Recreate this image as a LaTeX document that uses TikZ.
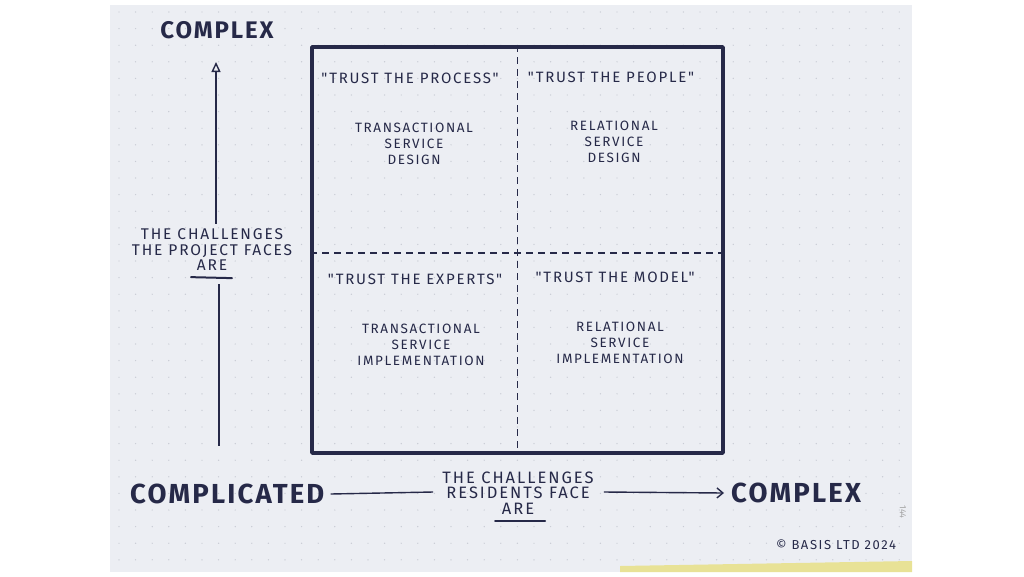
\documentclass[tikz,border=0pt]{standalone}
\usepackage{fontspec}
\setmainfont{Fira Sans}
\newfontfamily\handfont[LetterSpace=12]{Fira Sans}
\newfontfamily\markerfont[LetterSpace=8]{Fira Sans}
\usepackage{tikz}
\usetikzlibrary{arrows.meta,positioning,calc}
\definecolor{inkcol}{RGB}{38,41,72}
\definecolor{papercol}{RGB}{236,238,243}
\definecolor{dotcol}{RGB}{200,203,212}
\definecolor{tabcol}{RGB}{232,226,150}
\tikzset{
  frame/.style={draw=inkcol,line width=3.6pt,line join=round,inner sep=0pt},
  divider/.style={draw=inkcol,line width=1.3pt,dash pattern=on 7pt off 5pt},
  quote/.style={font=\handfont\fontsize{15}{17}\selectfont,text=inkcol,inner sep=0pt},
  body/.style={font=\handfont\fontsize{13.5}{16}\selectfont,text=inkcol,align=center,inner sep=0pt},
  sidelbl/.style={font=\handfont\fontsize{15.5}{15.5}\selectfont,text=inkcol,align=center,inner sep=0pt},
  bigword/.style={font=\markerfont\bfseries\fontsize{27.5}{30}\selectfont,text=inkcol,inner sep=0pt},
  topword/.style={font=\markerfont\bfseries\fontsize{24}{25}\selectfont,text=inkcol,inner sep=0pt},
  axisline/.style={draw=inkcol,line width=1.4pt},
  underln/.style={draw=inkcol,line width=2pt,line cap=round}
}
\begin{document}
\begin{tikzpicture}[x=1pt,y=-1pt]
  \useasboundingbox (0,0) rectangle (1024,576);
  % paper and dot grid
  \fill[white] (0,0) rectangle (1024,576);
  \fill[papercol] (110,5) rectangle (912,572);
  \fill[tabcol] (620,566) -- (912,561) -- (912,572) -- (620,572) -- cycle;
  \foreach \i in {0,...,47}
    \foreach \j in {0,...,33}
      \fill[dotcol] (119+16.6*\i,12+16.6*\j) circle (0.7);

  % vertical axis
  \node[topword] (vtop) at (217,30) {COMPLEX};
  \coordinate (uptip) at (216,62);
  \coordinate (upfoot) at (219,446);
  \node[sidelbl] (vlbl) at (212,250) {THE CHALLENGES\\THE PROJECT FACES\\ARE};
  \draw[underln] ([xshift=-21pt,yshift=-6pt]vlbl.south) -- ([xshift=20pt,yshift=-7pt]vlbl.south);
  \draw[axisline,-{Triangle[open,length=10pt,width=9pt]}] (vlbl.north) ++(4,-5) -- (uptip);
  \draw[axisline] ([yshift=-13pt]vlbl.south) ++(7,0) -- (upfoot);

  % quadrant grid
  \node[frame,minimum width=411,minimum height=406] (grid) at (517.5,250) {};
  \draw[divider] (grid.north) -- (grid.south);
  \draw[divider] ([yshift=-3pt]grid.west) -- ([yshift=-3pt]grid.east);

  \node[quote] (tl) at (410,78) {"TRUST THE PROCESS"};
  \node[quote] (tr) at (611,77) {"TRUST THE PEOPLE"};
  \node[quote] (bl) at (415,279) {"TRUST THE EXPERTS"};
  \node[quote] (br) at (615,277) {"TRUST THE MODEL"};

  \node[body] (tlb) at (414,144) {TRANSACTIONAL\\SERVICE\\DESIGN};
  \node[body] (trb) at (614,142) {RELATIONAL\\SERVICE\\DESIGN};
  \node[body] (blb) at (421,345) {TRANSACTIONAL\\SERVICE\\IMPLEMENTATION};
  \node[body] (brb) at (620,343) {RELATIONAL\\SERVICE\\IMPLEMENTATION};

  % horizontal axis
  \node[bigword,anchor=west] (hleft) at (130,494) {COMPLICATED};
  \node[sidelbl,font=\handfont\fontsize{16.5}{15.5}\selectfont] (hlbl) at (518,493) {THE CHALLENGES\\RESIDENTS FACE\\ARE};
  \draw[underln] ([xshift=-23pt,yshift=-7pt]hlbl.south) -- ([xshift=27pt,yshift=-7pt]hlbl.south);
  \node[bigword,anchor=west] (hright) at (731,493) {COMPLEX};
  \draw[axisline] ([xshift=6pt]hleft.east) -- ([xshift=-9pt,yshift=1pt]hlbl.west);
  \draw[axisline,-{Straight Barb[length=6pt,width=10pt]}] ([xshift=10pt,yshift=1pt]hlbl.east) -- ([xshift=-7pt]hright.west);

  \node[font=\handfont\fontsize{13}{14}\selectfont,text=inkcol,inner sep=0pt] (credit) at (836,545) {© BASIS LTD 2024};
  \node[font=\fontsize{9}{10}\selectfont,text=black!35,rotate=-90,inner sep=0pt] (pageno) at (903,512) {144};
\end{tikzpicture}
\end{document}
